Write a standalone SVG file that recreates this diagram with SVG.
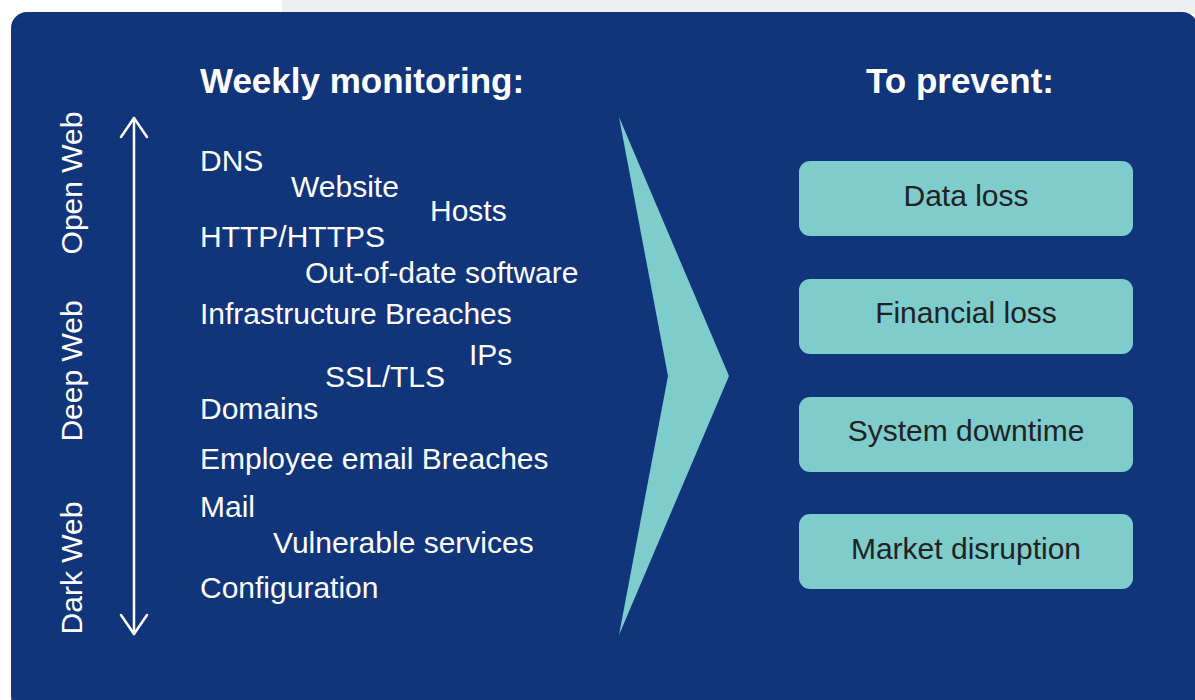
<svg xmlns="http://www.w3.org/2000/svg" width="1195" height="700" viewBox="0 0 1195 700">
  <style>
    .lst { font-family: "Liberation Sans", Arial, sans-serif; font-size: 30px; fill: #ffffff; }
    .hdr { font-family: "Liberation Sans", Arial, sans-serif; font-size: 35px; font-weight: bold; fill: #ffffff; }
    .vl { font-family: "Liberation Sans", Arial, sans-serif; font-size: 30px; fill: #ffffff; text-anchor: middle; }
    .box rect { fill: #7ecccc; }
    .box text { font-family: "Liberation Sans", Arial, sans-serif; font-size: 30px; fill: #222222; text-anchor: middle; }
    .ln { stroke: #ffffff; stroke-width: 2.5; fill: none; stroke-linecap: round; stroke-linejoin: round; }
  </style>
  <rect x="0" y="0" width="1195" height="700" fill="#ffffff"/>
  <rect x="282" y="0" width="913" height="14" fill="#eeeff1"/>
  <rect x="11" y="12" width="1187" height="700" rx="16" fill="#11357b"/>

  <g id="headers">
    <text class="hdr" x="200" y="93">Weekly monitoring:</text>
    <text class="hdr" x="866" y="93">To prevent:</text>
  </g>

  <g id="layers">
    <text class="vl" transform="translate(82,183) rotate(-90)">Open Web</text>
    <text class="vl" transform="translate(82,371) rotate(-90)">Deep Web</text>
    <text class="vl" transform="translate(82,568) rotate(-90)">Dark Web</text>
  </g>

  <g id="connectors">
    <path class="ln" d="M134 118 V634"/>
    <path class="ln" d="M121 137 L134 118 L147 137"/>
    <path class="ln" d="M121 615 L134 634 L147 615"/>
  </g>

  <g id="monitoring">
    <text class="lst" x="200" y="171">DNS</text>
    <text class="lst" x="291" y="197">Website</text>
    <text class="lst" x="430" y="221">Hosts</text>
    <text class="lst" x="200" y="247">HTTP/HTTPS</text>
    <text class="lst" x="305" y="283">Out-of-date software</text>
    <text class="lst" x="200" y="324">Infrastructure Breaches</text>
    <text class="lst" x="469" y="365">IPs</text>
    <text class="lst" x="325" y="387">SSL/TLS</text>
    <text class="lst" x="200" y="419">Domains</text>
    <text class="lst" x="200" y="469">Employee email Breaches</text>
    <text class="lst" x="200" y="517">Mail</text>
    <text class="lst" x="273" y="553">Vulnerable services</text>
    <text class="lst" x="200" y="598">Configuration</text>
  </g>

  <g id="chevron">
    <polygon points="619,117 729,376 619,635 668,376" fill="#7ecccc"/>
  </g>

  <g id="box-data-loss" class="box">
    <rect x="799" y="161" width="334" height="75" rx="11"/>
    <text x="966" y="206">Data loss</text>
  </g>
  <g id="box-financial-loss" class="box">
    <rect x="799" y="279" width="334" height="75" rx="11"/>
    <text x="966" y="323">Financial loss</text>
  </g>
  <g id="box-system-downtime" class="box">
    <rect x="799" y="397" width="334" height="75" rx="11"/>
    <text x="966" y="441">System downtime</text>
  </g>
  <g id="box-market-disruption" class="box">
    <rect x="799" y="514" width="334" height="75" rx="11"/>
    <text x="966" y="559">Market disruption</text>
  </g>
</svg>
